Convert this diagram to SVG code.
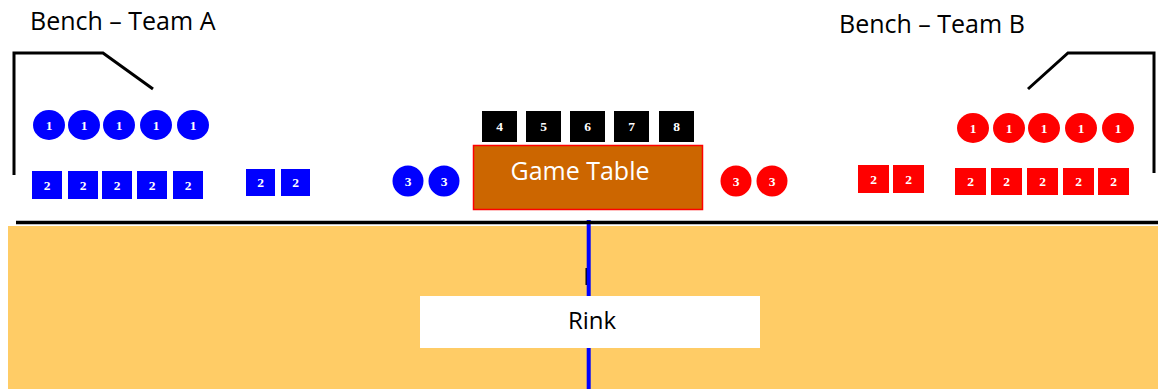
<svg xmlns="http://www.w3.org/2000/svg" width="1158" height="389" viewBox="0 0 1158 389">
<style>
.lbl{font-family:"Open Sans","DejaVu Sans",sans-serif;font-size:25px;fill:#000}
.num{font-family:"Liberation Serif","DejaVu Serif",serif;font-weight:bold;font-size:13.5px;fill:#fff;text-anchor:middle;dominant-baseline:central}
.b{fill:#0000FF}
.r{fill:#FF0000}
.k{fill:#000}
.brk{fill:none;stroke:#000;stroke-width:3}
</style>
<rect width="1158" height="389" fill="#fff"/>
<g id="rink">
<rect x="8" y="226" width="1150" height="163" fill="#FFCC66"/>
<rect x="585.5" y="268" width="3.5" height="17" fill="#000"/>
<rect x="586.7" y="220" width="4" height="169" fill="#0000FF"/>
<rect x="420" y="296" width="340" height="52" fill="#fff"/>
<text class="lbl" x="592" y="329" text-anchor="middle" style="font-size:24px">Rink</text>
</g>
<g id="lines">
<line x1="16" y1="222.5" x2="1158" y2="222.5" stroke="#000" stroke-width="3.5"/>
<polyline class="brk" points="14,175 14,53 103,53 153,89"/>
<polyline class="brk" points="1028,89 1068,53 1154,53 1154,173"/>
</g>
<g id="bench-a-label"><text class="lbl" x="30" y="30">Bench – Team A</text></g>
<g id="bench-b-label"><text class="lbl" x="839" y="33">Bench – Team B</text></g>
<g id="team-a-1">
<ellipse class="b" cx="49" cy="125" rx="16" ry="15"/><text class="num" x="49" y="125">1</text>
<ellipse class="b" cx="84" cy="125" rx="16" ry="15"/><text class="num" x="84" y="125">1</text>
<ellipse class="b" cx="119" cy="125" rx="16" ry="15"/><text class="num" x="119" y="125">1</text>
<ellipse class="b" cx="156" cy="125" rx="16" ry="15"/><text class="num" x="156" y="125">1</text>
<ellipse class="b" cx="193" cy="125" rx="16" ry="15"/><text class="num" x="193" y="125">1</text>
</g>
<g id="team-a-2">
<rect class="b" x="32" y="171" width="30" height="28"/><text class="num" x="47" y="185">2</text>
<rect class="b" x="68" y="171" width="30" height="28"/><text class="num" x="83" y="185">2</text>
<rect class="b" x="102" y="171" width="30" height="28"/><text class="num" x="117" y="185">2</text>
<rect class="b" x="137" y="171" width="30" height="28"/><text class="num" x="152" y="185">2</text>
<rect class="b" x="173" y="171" width="30" height="28"/><text class="num" x="188" y="185">2</text>
</g>
<g id="team-a-2-pair">
<rect class="b" x="246" y="169" width="29" height="27"/><text class="num" x="260.5" y="182.5">2</text>
<rect class="b" x="281" y="169" width="29" height="27"/><text class="num" x="295.5" y="182.5">2</text>
</g>
<g id="team-a-3">
<circle class="b" cx="408" cy="181" r="15.5"/><text class="num" x="408" y="181">3</text>
<circle class="b" cx="444" cy="181" r="15.5"/><text class="num" x="444" y="181">3</text>
</g>
<g id="officials">
<rect class="k" x="482" y="111" width="35" height="31"/><text class="num" x="499.5" y="126.5">4</text>
<rect class="k" x="526" y="111" width="35" height="31"/><text class="num" x="543.5" y="126.5">5</text>
<rect class="k" x="570" y="111" width="35" height="31"/><text class="num" x="587.5" y="126.5">6</text>
<rect class="k" x="614" y="111" width="35" height="31"/><text class="num" x="631.5" y="126.5">7</text>
<rect class="k" x="659" y="111" width="35" height="31"/><text class="num" x="676.5" y="126.5">8</text>
</g>
<g id="game-table">
<rect x="473.5" y="145.5" width="229" height="64" fill="#CC6600" stroke="#FF0000" stroke-width="1.5"/>
<text class="lbl" x="580" y="180" text-anchor="middle" style="fill:#fff">Game Table</text>
</g>
<g id="team-b-3">
<circle class="r" cx="736" cy="181" r="15.5"/><text class="num" x="736" y="181">3</text>
<circle class="r" cx="772" cy="181" r="15.5"/><text class="num" x="772" y="181">3</text>
</g>
<g id="team-b-2-pair">
<rect class="r" x="858" y="165" width="31" height="28"/><text class="num" x="873.5" y="179">2</text>
<rect class="r" x="893" y="165" width="31" height="28"/><text class="num" x="908.5" y="179">2</text>
</g>
<g id="team-b-2">
<rect class="r" x="955" y="168" width="31" height="27"/><text class="num" x="970.5" y="181.5">2</text>
<rect class="r" x="991" y="168" width="31" height="27"/><text class="num" x="1006.5" y="181.5">2</text>
<rect class="r" x="1027" y="168" width="31" height="27"/><text class="num" x="1042.5" y="181.5">2</text>
<rect class="r" x="1063" y="168" width="31" height="27"/><text class="num" x="1078.5" y="181.5">2</text>
<rect class="r" x="1098" y="168" width="31" height="27"/><text class="num" x="1113.5" y="181.5">2</text>
</g>
<g id="team-b-1">
<ellipse class="r" cx="973" cy="128" rx="16" ry="15"/><text class="num" x="973" y="128">1</text>
<ellipse class="r" cx="1009" cy="128" rx="16" ry="15"/><text class="num" x="1009" y="128">1</text>
<ellipse class="r" cx="1044" cy="128" rx="16" ry="15"/><text class="num" x="1044" y="128">1</text>
<ellipse class="r" cx="1081" cy="128" rx="16" ry="15"/><text class="num" x="1081" y="128">1</text>
<ellipse class="r" cx="1118" cy="128" rx="16" ry="15"/><text class="num" x="1118" y="128">1</text>
</g>
</svg>
